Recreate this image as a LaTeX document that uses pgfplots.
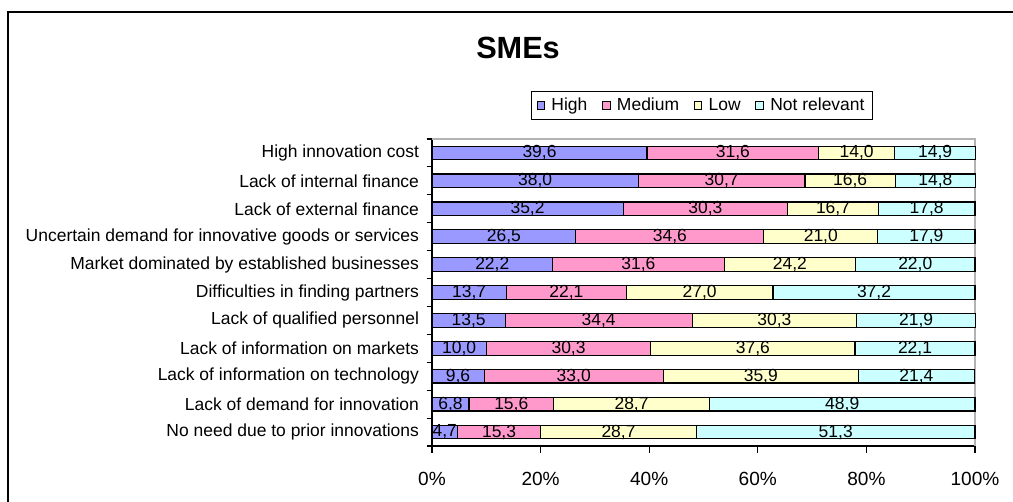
\documentclass[border=0pt]{standalone}
\usepackage{fontspec}
\setmainfont{Liberation Sans}
\usepackage{pgfplots}
\pgfplotsset{compat=1.18}
\definecolor{cHigh}{HTML}{9999FF}
\definecolor{cMed}{HTML}{FF99CC}
\definecolor{cLow}{HTML}{FFFFCC}
\definecolor{cNot}{HTML}{CCFFFF}
\newcommand{\lblfont}{\fontsize{13.1}{15.5}\selectfont}

\begin{document}
\begin{tikzpicture}
\useasboundingbox (0pt,0pt) rectangle (759.75pt,376.5pt);
% outer chart frame (cropped on the right and bottom)
\draw[line width=1pt] (6pt,-5pt) -- (6pt,367.5pt) -- (770pt,367.5pt);
\node[font=\fontsize{23}{27}\selectfont\bfseries] at (388.5pt,340.5pt) {SMEs};
\begin{axis}[
  at={(324pt,42pt)}, anchor=south west,
  scale only axis, width=407.25pt, height=230.25pt,
  xbar stacked, bar width=10.25pt,
  xmin=0, xmax=100, ymin=-0.5, ymax=10.5,
  clip=false,
  axis lines=left,
  axis line style={-, black, line width=0.9pt},
  tick align=outside,
  major tick length=5.25pt, minor tick length=4pt,
  tick style={black, line width=0.8pt},
  xtick={0,20,...,100},
  xticklabels={0\%,20\%,40\%,60\%,80\%,100\%},
  xticklabel style={font=\fontsize{14.3}{17}\selectfont, yshift=-10.5pt},
  ytick={0,...,10},
  yticklabels={No need due to prior innovations,
    Lack of demand for innovation,
    Lack of information on technology,
    Lack of information  on markets,
    Lack of qualified personnel,
    Difficulties in finding partners,
    Market dominated by established businesses,
    Uncertain demand for innovative goods or services,
    Lack of external finance,
    Lack of internal finance,
    High innovation cost},
  yticklabel style={font=\lblfont, xshift=-1pt},
  every major y tick/.append style={draw=none},
  minor ytick={-0.5,0.5,...,10.5},
  visualization depends on={rawx \as \rawx},
  nodes near coords={\pgfmathprintnumber[fixed,fixed zerofill,precision=1,use comma,assume math mode=true]{\rawx}},
  every node near coord/.append style={anchor=center, font=\lblfont, text=black},
  legend columns=4,
  legend style={at={(0.497,1.109)}, anchor=center, draw=black, line width=0.7pt,
    font=\lblfont, inner xsep=4pt, inner ysep=3pt,
    /tikz/every odd column/.append style={column sep=3pt},
    /tikz/every even column/.append style={column sep=9pt}},
  legend image code/.code={\draw[#1, line width=0.6pt] (0pt,-2.8pt) rectangle (5.6pt,2.8pt);},
]
\addplot[fill=cHigh, draw=black, line width=0.9pt] coordinates {
  (4.7,0) (6.8,1) (9.6,2) (10.0,3) (13.5,4) (13.7,5) (22.2,6) (26.5,7) (35.2,8) (38.0,9) (39.6,10)};
\addplot[fill=cMed, draw=black, line width=0.9pt] coordinates {
  (15.3,0) (15.6,1) (33.0,2) (30.3,3) (34.4,4) (22.1,5) (31.6,6) (34.6,7) (30.3,8) (30.7,9) (31.6,10)};
\addplot[fill=cLow, draw=black, line width=0.9pt] coordinates {
  (28.7,0) (28.7,1) (35.9,2) (37.6,3) (30.3,4) (27.0,5) (24.2,6) (21.0,7) (16.7,8) (16.6,9) (14.0,10)};
\addplot[fill=cNot, draw=black, line width=0.9pt] coordinates {
  (51.3,0) (48.9,1) (21.4,2) (22.1,3) (21.9,4) (37.2,5) (22.0,6) (17.9,7) (17.8,8) (14.8,9) (14.9,10)};
\legend{High,Medium,Low,Not relevant}
\draw[gray!60, line width=0.8pt] (rel axis cs:0,1) -- (rel axis cs:1,1) -- (rel axis cs:1,0);
\end{axis}
\end{tikzpicture}
\end{document}
